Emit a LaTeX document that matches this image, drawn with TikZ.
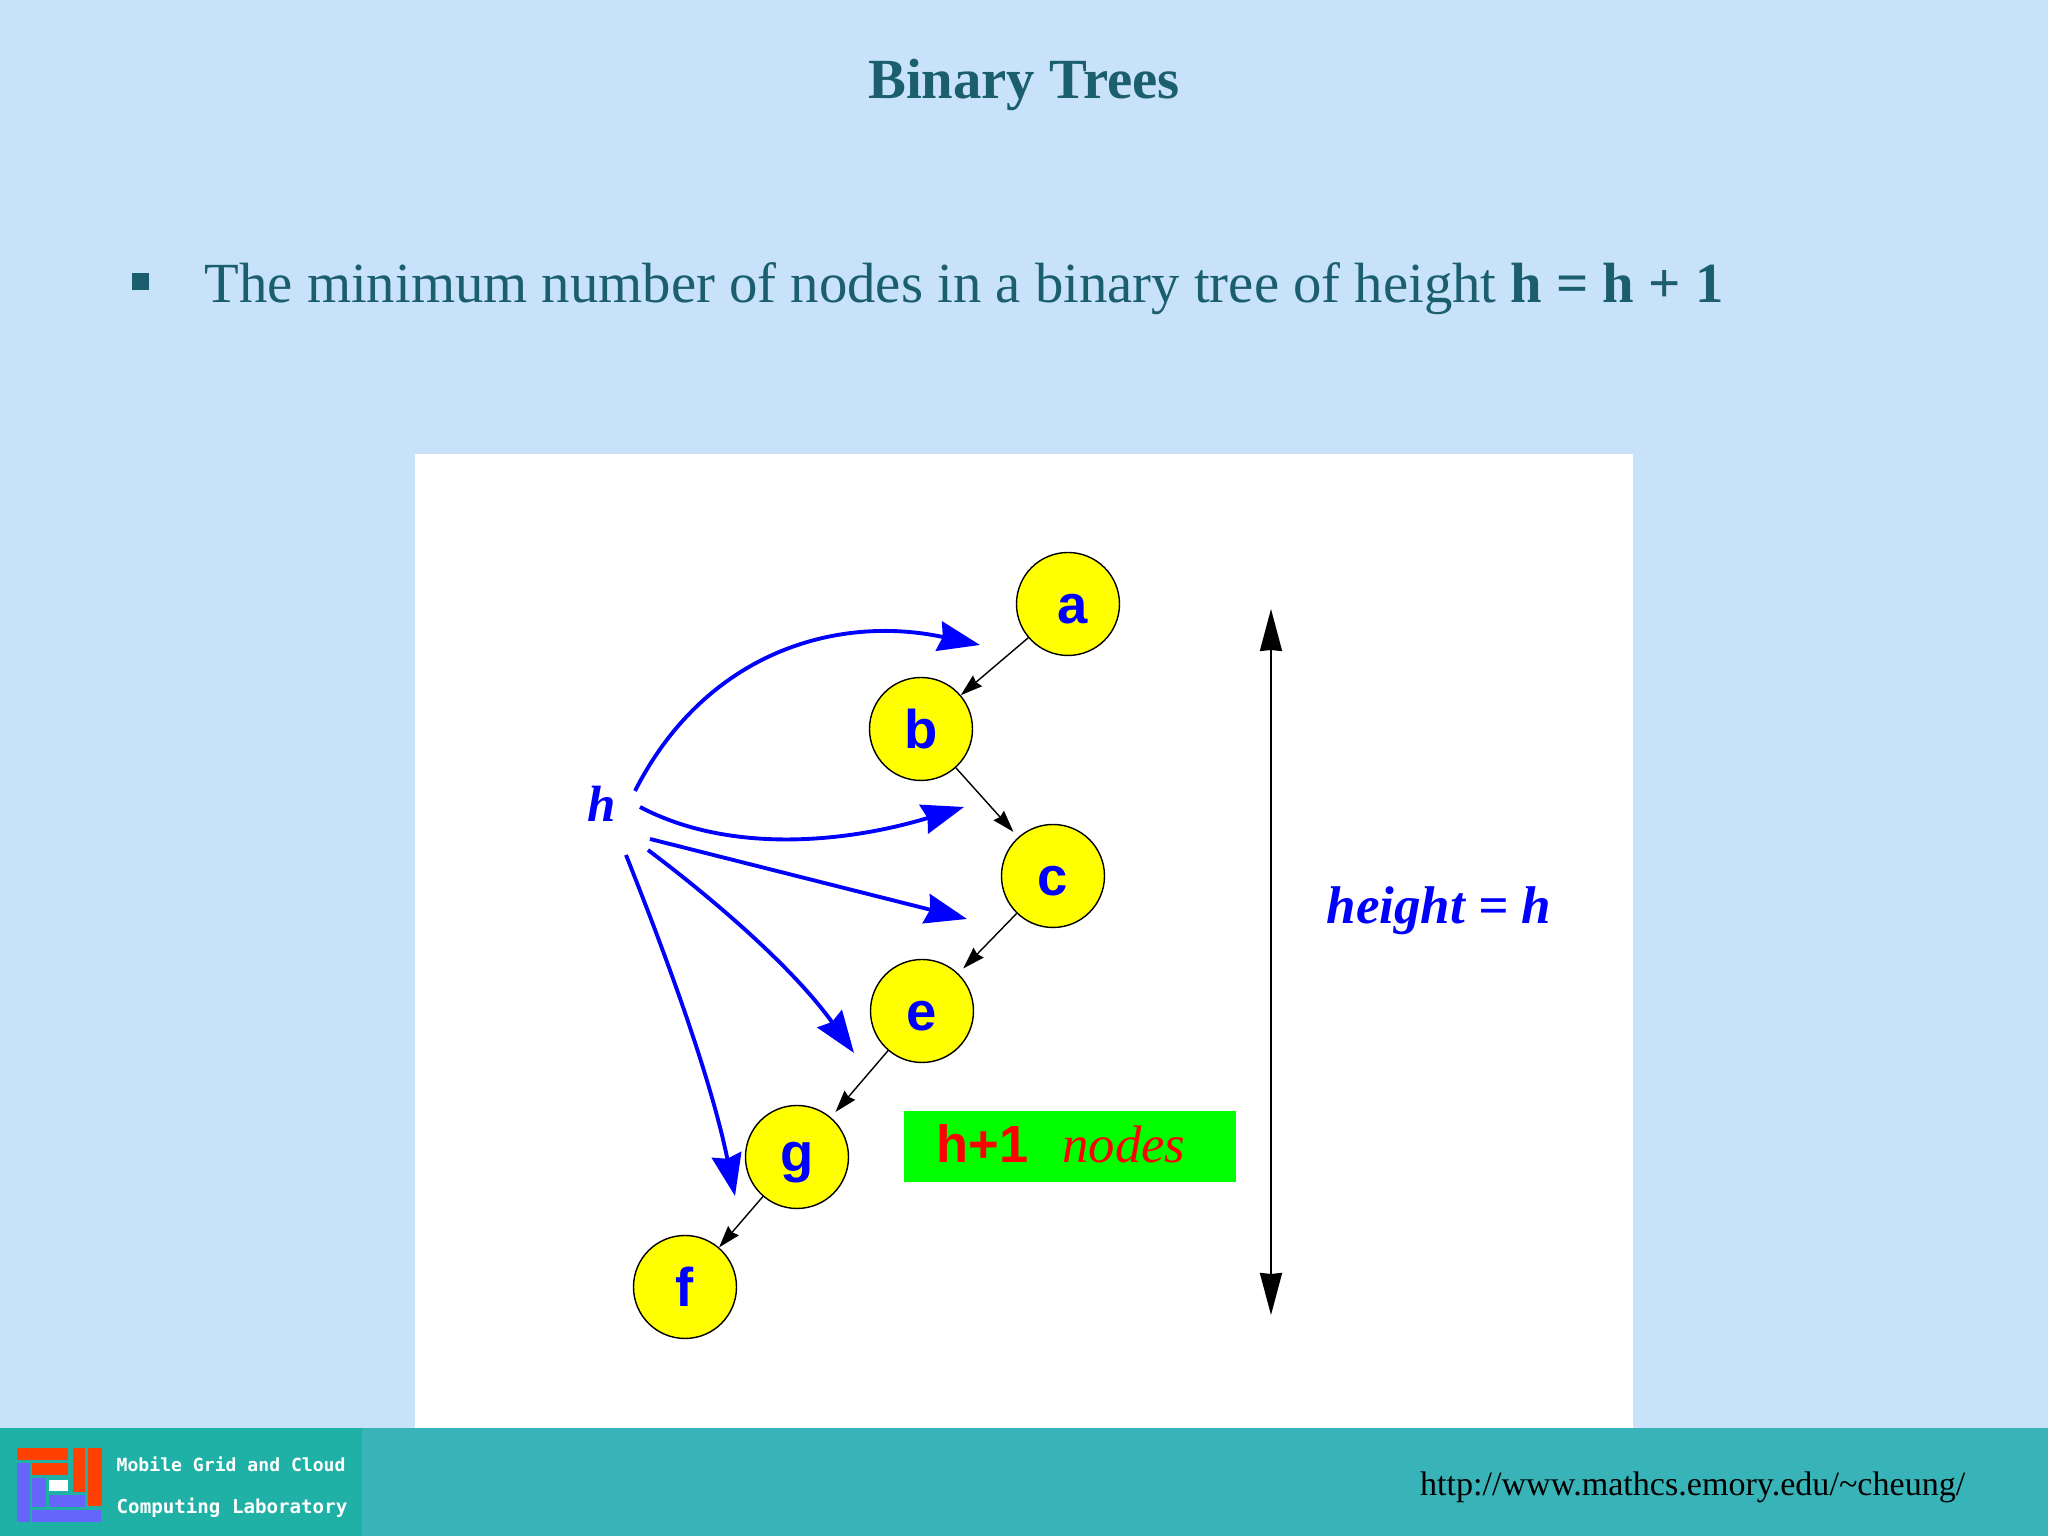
\documentclass[tikz,border=0pt]{standalone}
\usepackage{fontspec}
\setmainfont{Liberation Serif}
\newfontfamily\arialfont{Liberation Sans}
\newfontfamily\logofont{DejaVu Sans Mono}
\usetikzlibrary{arrows.meta}
\usepackage{xcolor}
\definecolor{slidebg}{HTML}{C7E2F9}
\definecolor{slideink}{HTML}{1B5E6E}
\definecolor{footerteal}{HTML}{38B4B8}
\definecolor{logoteal}{HTML}{1FB0A6}
\definecolor{logored}{HTML}{FF4000}
\definecolor{logoblue}{HTML}{6666FF}
\definecolor{nodeyellow}{RGB}{255,255,0}
\begin{document}
\begin{tikzpicture}
							\tikzstyle{vertex} = [circle,fill=nodeyellow,draw=black,inner sep=0pt,minimum size=1.03cm,text=blue,text height=0.4cm,text depth=0cm,font=\arialfont\bfseries\fontsize{15.5}{16}\selectfont]
							\tikzstyle{edge} = [-{Stealth[length=0.22cm,width=0.14cm,inset=0.02cm]},draw=black,thin]
							\tikzstyle{edge2} = [-{Stealth[length=0.42cm,width=0.3cm,inset=0.04cm]},draw=blue,line width=1.1pt]
							\tikzstyle{edge3} = [{Stealth[length=0.42cm,width=0.22cm,inset=0.01cm]}-{Stealth[length=0.42cm,width=0.22cm,inset=0.01cm]},draw=black,line width=0.6pt]
							\tikzstyle{logotext} = [anchor=base west,inner sep=0pt,text=white,font=\logofont\bfseries\fontsize{5.15}{6}\selectfont]
							\useasboundingbox (0,0) rectangle (20.48,15.36);
							\fill[slidebg] (0,0) rectangle (20.48,15.36);
							\fill[white] (4.15,1.08) rectangle (16.33,10.82);
							\fill[footerteal] (0,0) rectangle (20.48,1.08);
							\fill[logoteal] (0,0) rectangle (3.62,1.08);
							%logo
							\fill[logored] (0.17,0.88) rectangle (0.68,0.76);
							\fill[logored] (0.32,0.73) rectangle (0.68,0.61);
							\fill[logored] (0.73,0.88) rectangle (0.85,0.44);
							\fill[logored] (0.88,0.88) rectangle (1.02,0.30);
							\fill[logoblue] (0.17,0.73) rectangle (0.30,0.14);
							\fill[logoblue] (0.32,0.26) rectangle (1.01,0.14);
							\fill[logoblue] (0.32,0.58) rectangle (0.46,0.29);
							\fill[logoblue] (0.49,0.41) rectangle (0.85,0.29);
							\fill[white] (0.49,0.56) rectangle (0.68,0.45);
							\node[logotext] (t1) at (1.16,0.64) {Mobile Grid and Cloud};
							\node[logotext,font=\logofont\bfseries\fontsize{5.45}{6}\selectfont] (t2) at (1.16,0.22) {Computing Laboratory};
							%slide text
							\node[text=slideink,font=\bfseries\fontsize{16.15}{18}\selectfont,anchor=base] (title) at (10.24,14.37) {Binary Trees};
							\fill[slideink] (1.32,12.63) rectangle (1.49,12.46);
							\node[text=slideink,font=\fontsize{16.14}{18}\selectfont,anchor=base west,inner sep=0pt] (line) at (2.04,12.33) {The minimum number of nodes in a binary tree of height \textbf{h = h + 1}};
							\node[font=\fontsize{9.7}{12}\selectfont,anchor=east,inner sep=0pt] (url) at (19.66,0.49) {http://www.mathcs.emory.edu/\textasciitilde cheung/};
							%tree
							\node[vertex] (na) at (10.68,9.32) {\kern0.1cm a};
							\node[vertex] (nb) at (9.21,8.07) {b};
							\node[vertex] (nc) at (10.53,6.60) {c};
							\node[vertex] (ne) at (9.22,5.25) {e};
							\node[vertex,text height=0.3cm] (ng) at (7.97,3.79) {g};
							\node[vertex] (nf) at (6.85,2.49) {f};
							\draw[edge] (na)--(nb);
							\draw[edge,shorten >=2pt] (nb)--(nc);
							\draw[edge,shorten >=2pt] (nc)--(ne);
							\draw[edge,shorten >=2pt] (ne)--(ng);
							\draw[edge] (ng)--(nf);
							%h and its arrows
							\node[text=blue,font=\bfseries\itshape\fontsize{14.5}{14}\selectfont] (nh) at (6.02,7.32) {h};
							\coordinate (s1) at (6.35,7.45);
							\coordinate (e1) at (9.80,8.91);
							\coordinate (s2) at (6.40,7.29);
							\coordinate (e2) at (9.64,7.29);
							\coordinate (s3) at (6.50,6.97);
							\coordinate (e3) at (9.67,6.17);
							\coordinate (s4) at (6.48,6.86);
							\coordinate (e4) at (8.54,4.83);
							\coordinate (s5) at (6.26,6.81);
							\coordinate (e5) at (7.35,3.40);
							\draw[edge2] (s1) .. controls (7.05,8.83) and (8.36,9.22) .. (e1);
							\draw[edge2] (s2) .. controls (7.31,6.81) and (8.49,6.94) .. (e2);
							\draw[edge2] (s3)--(e3);
							\draw[edge2] (s4) .. controls (7.25,6.28) and (7.97,5.63) .. (e4);
							\draw[edge2] (s5) .. controls (6.73,5.63) and (7.12,4.52) .. (e5);
							%height
							\coordinate (top) at (12.71,9.27);
							\coordinate (bot) at (12.71,2.21);
							\draw[edge3] (top)--(bot);
							\node[text=blue,font=\bfseries\itshape\fontsize{15.1}{16}\selectfont] (hlabel) at (14.39,6.25) {height = h};
							\node[fill=green,text=red,minimum width=3.32cm,minimum height=0.71cm,inner sep=0pt,text depth=0.05cm] (count) at (10.70,3.895) {{\arialfont\bfseries\fontsize{14.9}{14}\selectfont h+1}\hspace{0.34cm}{\itshape\fontsize{15}{14}\selectfont nodes}\kern0.18cm};
								\end{tikzpicture}
\end{document}
